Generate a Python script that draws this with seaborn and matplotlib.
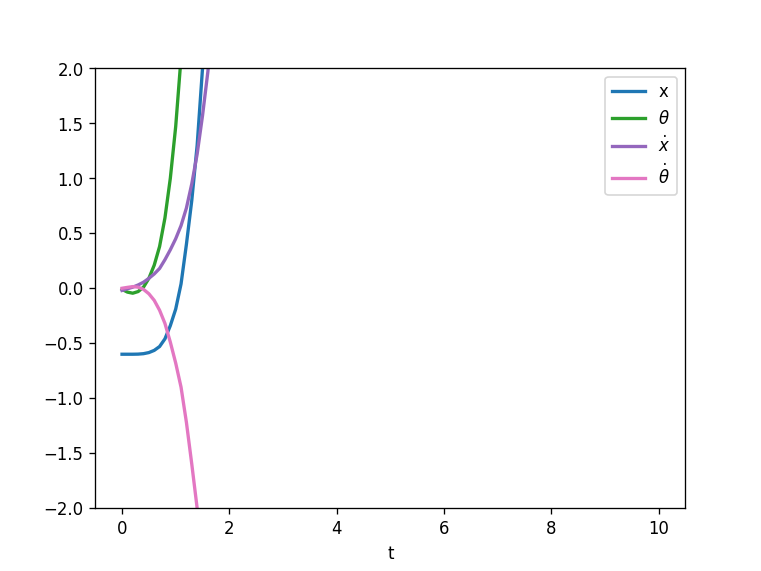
import numpy as np
import pandas as pd
import matplotlib
matplotlib.use("Agg")
import matplotlib.pyplot as plt
import seaborn as sns

t = [0.0, 0.1, 0.2, 0.3, 0.4, 0.5, 0.6, 0.7, 0.8, 0.9,
     1.0, 1.1, 1.2, 1.3, 1.4, 1.5, 1.6, 1.7]

x = [-0.600, -0.600, -0.600, -0.599, -0.595, -0.585, -0.565, -0.530, -0.460, -0.340,
     -0.190, 0.040, 0.400, 0.800, 1.300, 2.000, 2.900, 4.000]
theta = [-0.010, -0.035, -0.045, -0.030, 0.010, 0.090, 0.210, 0.380, 0.640, 1.000,
         1.470, 2.100, 2.900, 3.900, 5.200, 6.900, 9.000, 11.600]
x_dot = [-0.020, -0.005, 0.010, 0.030, 0.055, 0.090, 0.130, 0.180, 0.260, 0.350,
         0.450, 0.570, 0.730, 0.950, 1.220, 1.570, 1.970, 2.500]
theta_dot = [0.000, 0.008, 0.015, 0.010, -0.010, -0.050, -0.110, -0.200, -0.320, -0.490,
             -0.680, -0.900, -1.220, -1.600, -2.000, -2.500, -3.100, -3.800]

labels = ['x', r'$\theta$', r'$\dot{x}$', r'$\dot{\theta}$']
colors = ['tab:blue', 'tab:green', 'tab:purple', 'tab:pink']
series = [x, theta, x_dot, theta_dot]

fig, ax = plt.subplots(figsize=(6.4, 4.8), dpi=119)

for vals, lab, col in zip(series, labels, colors):
    sns.lineplot(x=t, y=vals, label=lab, color=col, ax=ax, linewidth=2)

ax.set_xlim(-0.5, 10.5)
ax.set_ylim(-2, 2)
ax.set_xlabel('t')
ax.legend(loc='upper right')

plt.savefig('out.png', dpi=119)
